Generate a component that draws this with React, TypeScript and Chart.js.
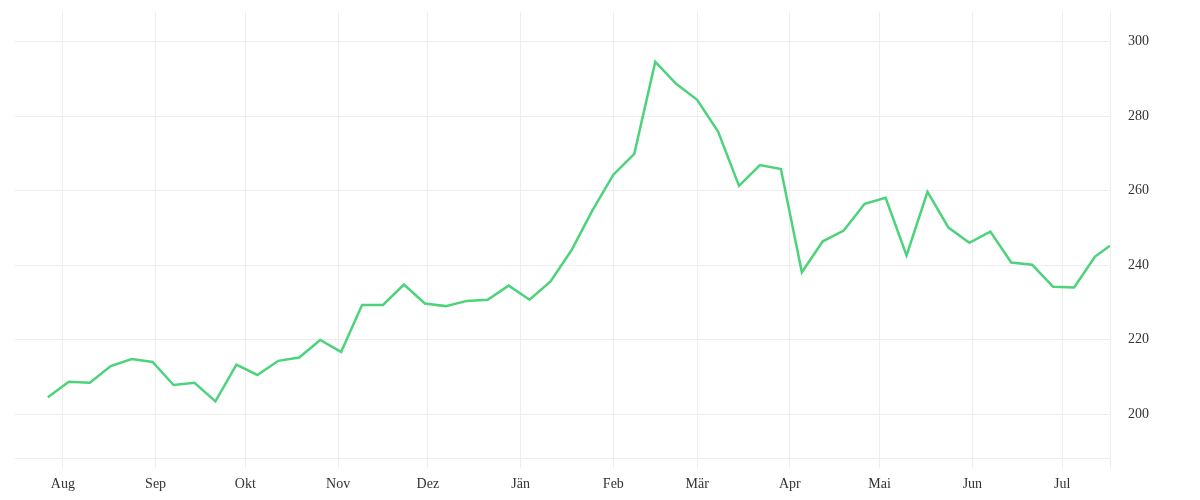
import React, { useEffect, useRef } from 'react';
import { Chart, registerables } from 'chart.js';

Chart.register(...registerables);

// days counted from 1 Aug
const weekDays = [
  -5, 2, 9, 16, 23, 30, 37, 44, 51, 58, 65, 72, 79, 86, 93, 100, 107, 114, 121, 128,
  135, 142, 149, 156, 163, 170, 177, 184, 191, 198, 205, 212, 219, 226, 233, 240,
  247, 254, 261, 268, 275, 282, 289, 296, 303, 310, 317, 324, 331, 338, 345, 350,
];

const prices = [
  204.5, 208.7, 208.4, 212.9, 214.8, 214.0, 207.8, 208.4, 203.4, 213.3, 210.5, 214.3,
  215.2, 219.9, 216.7, 229.3, 229.3, 234.8, 229.7, 229.0, 230.4, 230.7, 234.5, 230.7,
  235.6, 244.0, 254.7, 264.3, 269.9, 294.6, 288.7, 284.4, 275.9, 261.3, 266.9, 265.8,
  238.1, 246.4, 249.3, 256.5, 258.1, 242.6, 259.7, 250.1, 246.0, 249.0, 240.7, 240.1,
  234.2, 234.0, 242.3, 245.2,
];

const monthDays = [0, 31, 61, 92, 122, 153, 184, 212, 243, 273, 304, 334];
const monthLabels = ['Aug', 'Sep', 'Okt', 'Nov', 'Dez', 'Jän', 'Feb', 'Mär', 'Apr', 'Mai', 'Jun', 'Jul'];

const yTicks = [200, 220, 240, 260, 280, 300];

const X_MIN = -16;
const X_MAX = 350;
const Y_MIN = 188.2;
const Y_MAX = 308;

const gridColor = '#ededed';
const textColor = '#333333';
const font = { family: '"Liberation Serif", serif', size: 14 };

export default function App() {
  const canvasRef = useRef<HTMLCanvasElement>(null);
  const chartInstance = useRef<Chart | null>(null);

  useEffect(() => {
    if (!canvasRef.current) return;

    chartInstance.current = new Chart(canvasRef.current, {
      type: 'line',
      data: {
        datasets: [
          {
            data: weekDays.map((d, i) => ({ x: d, y: prices[i] })),
            borderColor: '#4cd37b',
            borderWidth: 2.5,
            pointRadius: 0,
            tension: 0,
            fill: false,
          },
        ],
      },
      options: {
        animation: false,
        responsive: true,
        maintainAspectRatio: false,
        layout: { padding: { left: 15, top: 12, right: 51, bottom: 0 } },
        plugins: {
          legend: { display: false },
          tooltip: { enabled: false },
        },
        scales: {
          x: {
            type: 'linear',
            min: X_MIN,
            max: X_MAX,
            afterBuildTicks: (scale) => {
              scale.ticks = [...monthDays, X_MAX].map((v) => ({ value: v }));
            },
            afterFit: (scale) => {
              scale.height = 42;
            },
            grid: { color: gridColor, tickLength: 10 },
            border: { color: gridColor },
            ticks: {
              autoSkip: false,
              maxRotation: 0,
              padding: 8,
              color: textColor,
              font,
              callback: (value) => {
                const i = monthDays.indexOf(Number(value));
                return i >= 0 ? monthLabels[i] : '';
              },
            },
          },
          y: {
            position: 'right',
            min: Y_MIN,
            max: Y_MAX,
            afterBuildTicks: (scale) => {
              scale.ticks = yTicks.map((v) => ({ value: v }));
            },
            afterFit: (scale) => {
              scale.width = 39;
            },
            grid: { color: gridColor, drawTicks: false },
            border: { color: gridColor },
            ticks: {
              padding: 0,
              crossAlign: 'far',
              color: textColor,
              font,
            },
          },
        },
      },
    });

    return () => {
      chartInstance.current?.destroy();
    };
  }, []);

  return (
    <div style={{ position: 'relative', width: '1200px', height: '500px', margin: '-8px 0 0 -8px' }}>
      <canvas ref={canvasRef} />
    </div>
  );
}
